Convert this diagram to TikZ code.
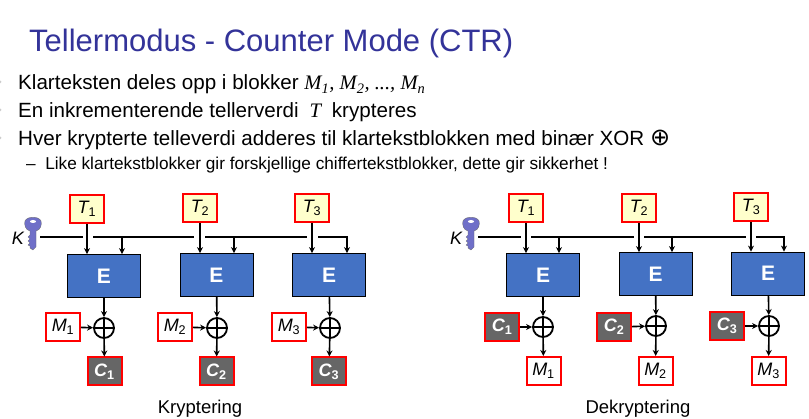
\documentclass[tikz,border=0pt]{standalone}
\usepackage{fontspec}
\setmainfont{Liberation Sans}
\newfontfamily\serifit{Liberation Serif}
\newfontfamily\symbfont{DejaVu Sans}
\usetikzlibrary{arrows.meta, calc}
\definecolor{titleblue}{HTML}{333399}
\definecolor{boxred}{HTML}{FF0000}
\definecolor{counterfill}{HTML}{FFFFCC}
\definecolor{cipherfill}{HTML}{666666}
\definecolor{blockblue}{HTML}{4472C4}
\definecolor{keyblue}{HTML}{6F6FC8}
\newcommand{\idx}[1]{\textsubscript{\upshape #1}}
\newcommand{\keyshape}[1]{%
  \fill[keyblue, draw=black!60, line width=0.3pt, shift={(#1)}]
    (-3,-1) .. controls (-8,-2) and (-9,-8) .. (-8,-11)
    .. controls (-6,-16) and (6,-16) .. (8,-11)
    .. controls (9,-8) and (8,-2) .. (3,-1) -- (3,15) -- (0,18) -- (-3,16)
    -- (-3,14) -- (-5,13) -- (-3,11) -- (-5,9) -- (-3,7) -- (-5,5) -- (-3,3) -- cycle;
  \fill[white, shift={(#1)}] (0,-10.5) ellipse (3 and 1.5);}

\begin{document}
\begin{tikzpicture}[x=1pt, y=-1pt,
                    txtline/.style={anchor=base west, inner sep=0pt, font=\fontsize{20.6}{20.6}\selectfont},
                    lbl/.style={inner sep=0pt, font=\fontsize{18.5}{18.5}\selectfont},
                    counter/.style={draw=boxred, line width=2pt, fill=counterfill, minimum width=34pt, minimum height=28pt, inner sep=0pt, font=\fontsize{18}{18}\selectfont\itshape},
                    plain/.style={draw=boxred, line width=2pt, fill=white, minimum width=34pt, minimum height=28pt, inner sep=0pt, font=\fontsize{18}{18}\selectfont\itshape},
                    cipher/.style={draw=boxred, line width=2pt, fill=cipherfill, text=white, minimum width=34pt, minimum height=28pt, inner sep=0pt, font=\fontsize{18}{18}\selectfont\itshape\bfseries},
                    block/.style={draw=black, line width=0.8pt, fill=blockblue, text=white, minimum width=73pt, minimum height=43pt, inner sep=0pt, font=\fontsize{21}{21}\selectfont\bfseries},
                    xorgate/.style={circle, draw=black, line width=1.8pt, minimum size=20pt, inner sep=0pt,
                      path picture={\draw[black, line width=1.8pt] (path picture bounding box.north) -- (path picture bounding box.south) (path picture bounding box.west) -- (path picture bounding box.east);}},
                    wire/.style={line width=1.5pt},
                    arr/.style={-{Stealth[length=6pt, width=6pt]}, line width=1.6pt}]

    \useasboundingbox (0,0) rectangle (809,419);
    \fill[white] (0,0) rectangle (809,419);

    \node[anchor=base west, inner sep=0pt, text=titleblue, font=\fontsize{31}{31}\selectfont] (title) at (29,52) {Tellermodus - Counter Mode (CTR)};
    \fill[black!20] (0,82) circle (1.5) (0,110) circle (1.5) (0,138) circle (1.5);
    \node[txtline] (line1) at (18,90) {Klarteksten deles opp i blokker {\serifit\itshape M\textsubscript{1}, M\textsubscript{2}, ..., M\textsubscript{n}}};
    \node[txtline] (line2) at (18,118) {En inkrementerende tellerverdi {\serifit\itshape\ T\ } krypteres};
    \node[txtline] (line3) at (18,146) {Hver krypterte telleverdi adderes til klartekstblokken med binær XOR\ {\symbfont\fontsize{24}{24}\selectfont ⊕}};
    \node[anchor=base west, inner sep=0pt, font=\fontsize{17.2}{17.2}\selectfont] (line4) at (26,170) {–\ \ Like klartekstblokker gir forskjellige chiffertekstblokker, dette gir sikkerhet !};

    % kryptering
    \node[counter] (t1) at (87,209)  {T\idx{1}};
    \node[counter] (t2) at (200,208) {T\idx{2}};
    \node[counter] (t3) at (312,208) {T\idx{3}};
    \node[block] (e1) at (104,276)   {E};
    \node[block] (e2) at (216.5,275) {E};
    \node[block] (e3) at (329,275)   {E};
    \node[xorgate] (x1) at (104,328) {};
    \node[xorgate] (x2) at (217,328) {};
    \node[xorgate] (x3) at (330,328) {};
    \node[plain] (m1) at (63,327)  {M\idx{1}};
    \node[plain] (m2) at (175,327) {M\idx{2}};
    \node[plain] (m3) at (289,327) {M\idx{3}};
    \node[cipher] (c1) at (104.5,371.5) {C\idx{1}};
    \node[cipher] (c2) at (216.5,371.5) {C\idx{2}};
    \node[cipher] (c3) at (329,371.5)   {C\idx{3}};
    \node[lbl, font=\fontsize{18}{18}\selectfont\itshape] (k1) at (18,238) {K};
    \node[lbl] (cap1) at (200,409) {Kryptering};
    \keyshape{33,232}

    \coordinate (ka) at (40,237);
    \coordinate (kb) at (83,237);
    \coordinate (kc) at (93,237);
    \coordinate (kd) at (194,237);
    \coordinate (ke) at (205,237);
    \coordinate (kf) at (307,237);
    \coordinate (kg) at (318,237);
    \coordinate (b1) at (122,237);
    \coordinate (b2) at (234,237);
    \coordinate (b3) at (347,237);

    \draw[wire] (ka) -- (kb);
    \draw[wire] (kc) -- (kd);
    \draw[wire] (ke) -- (kf);
    \draw[arr] (kg) -| (b3 |- e3.north);
    \draw[arr] (b1) -- (b1 |- e1.north);
    \draw[arr] (b2) -- (b2 |- e2.north);
    \draw[arr] (t1) -- (t1 |- e1.north);
    \draw[arr] (t2) -- (t2 |- e2.north);
    \draw[arr] (t3) -- (t3 |- e3.north);
    \draw[arr] (e1) -- (x1);
    \draw[arr] (e2) -- (x2);
    \draw[arr] (e3) -- (x3);
    \draw[arr] (m1) -- (x1);
    \draw[arr] (m2) -- (x2);
    \draw[arr] (m3) -- (x3);
    \draw[arr] (x1) -- (c1);
    \draw[arr] (x2) -- (c2);
    \draw[arr] (x3) -- (c3);

    % dekryptering
    \node[counter] (dt1) at (526,208) {T\idx{1}};
    \node[counter] (dt2) at (639,208) {T\idx{2}};
    \node[counter] (dt3) at (751,207) {T\idx{3}};
    \node[block] (de1) at (543,275)   {E};
    \node[block] (de2) at (655.5,274) {E};
    \node[block] (de3) at (768,273.5) {E};
    \node[xorgate] (dx1) at (543,327) {};
    \node[xorgate] (dx2) at (656,326) {};
    \node[xorgate] (dx3) at (769,326) {};
    \node[cipher] (dc1) at (502,327) {C\idx{1}};
    \node[cipher] (dc2) at (614,327) {C\idx{2}};
    \node[cipher] (dc3) at (727,326) {C\idx{3}};
    \node[plain] (dm1) at (543.5,371) {M\idx{1}};
    \node[plain] (dm2) at (655.5,371) {M\idx{2}};
    \node[plain] (dm3) at (768.5,371) {M\idx{3}};
    \node[lbl, font=\fontsize{18}{18}\selectfont\itshape] (k2) at (456,238) {K};
    \node[lbl] (cap2) at (638,409) {Dekryptering};
    \keyshape{471,232}

    \coordinate (dka) at (478,237);
    \coordinate (dkb) at (521,237);
    \coordinate (dkc) at (531,237);
    \coordinate (dkd) at (634,237);
    \coordinate (dke) at (644,237);
    \coordinate (dkf) at (746,237);
    \coordinate (dkg) at (756,237);
    \coordinate (db1) at (559,237);
    \coordinate (db2) at (672,237);
    \coordinate (db3) at (784,237);

    \draw[wire] (dka) -- (dkb);
    \draw[wire] (dkc) -- (dkd);
    \draw[wire] (dke) -- (dkf);
    \draw[arr] (dkg) -| (db3 |- de3.north);
    \draw[arr] (db1) -- (db1 |- de1.north);
    \draw[arr] (db2) -- (db2 |- de2.north);
    \draw[arr] (dt1) -- (dt1 |- de1.north);
    \draw[arr] (dt2) -- (dt2 |- de2.north);
    \draw[arr] (dt3) -- (dt3 |- de3.north);
    \draw[arr] (de1) -- (dx1);
    \draw[arr] (de2) -- (dx2);
    \draw[arr] (de3) -- (dx3);
    \draw[arr] (dc1) -- (dx1);
    \draw[arr] (dc2) -- (dx2);
    \draw[arr] (dc3) -- (dx3);
    \draw[arr] (dx1) -- (dm1);
    \draw[arr] (dx2) -- (dm2);
    \draw[arr] (dx3) -- (dm3);
\end{tikzpicture}
\end{document}
